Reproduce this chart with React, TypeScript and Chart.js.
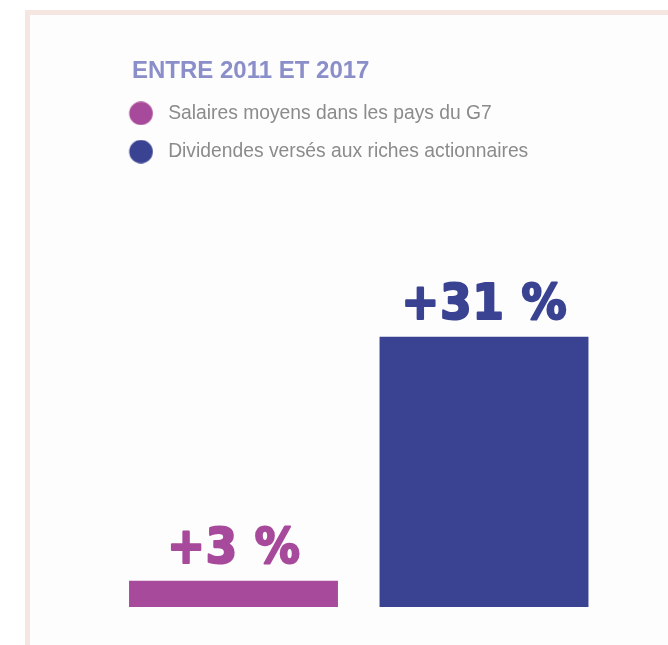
import React, { useEffect, useRef } from 'react';
import { Chart, registerables } from 'chart.js';

Chart.register(...registerables);

// ---- data ----
const categories = ['Salaires moyens', 'Dividendes'];
const seriesNames = ['Salaires moyens dans les pays du G7', 'Dividendes versés aux riches actionnaires'];
const salairesValues: (number | null)[] = [3, null];
const dividendesValues: (number | null)[] = [null, 31];
const titleText = 'ENTRE 2011 ET 2017';
const yMin = 0;
const yMax = 50;

// ---- styles ----
const MAGENTA = '#a74a9b';
const BLUE = '#3a4392';
const TITLE_COLOR = '#8a8ec9';
const LEGEND_COLOR = '#8b8b8b';
const FONT = "'Liberation Sans', Arial, sans-serif";
const LABEL_FONT = "'DejaVu Sans Condensed', 'DejaVu Sans', sans-serif";

function makeDot(color: string): HTMLCanvasElement {
  const c = document.createElement('canvas');
  c.width = 50;
  c.height = 24;
  const g = c.getContext('2d')!;
  g.fillStyle = color;
  g.beginPath();
  g.arc(13.25, 12, 11.8, 0, Math.PI * 2);
  g.fill();
  return c;
}

const headerTitlePlugin = {
  id: 'headerTitle',
  afterDraw(chart: any) {
    const lg = chart.legend;
    if (!lg) return;
    const ctx = chart.ctx;
    ctx.save();
    ctx.font = `bold 24px ${FONT}`;
    ctx.fillStyle = TITLE_COLOR;
    ctx.textAlign = 'left';
    ctx.textBaseline = 'middle';
    ctx.fillText(titleText, lg.left + 4, lg.top - 13.2);
    ctx.restore();
  },
};

const valueLabelPlugin = {
  id: 'valueLabels',
  afterDatasetsDraw(chart: any) {
    const ctx = chart.ctx;
    ctx.save();
    ctx.font = `bold 50px ${LABEL_FONT}`;
    ctx.textAlign = 'center';
    ctx.textBaseline = 'alphabetic';
    try {
      (ctx as any).letterSpacing = '1px';
    } catch (e) {
      /* ignore */
    }
    ctx.lineJoin = 'round';
    ctx.lineWidth = 2.2;
    chart.data.datasets.forEach((ds: any, i: number) => {
      const meta = chart.getDatasetMeta(i);
      meta.data.forEach((el: any, j: number) => {
        const v = ds.data[j];
        if (v === null || v === undefined) return;
        const text = `+${v} %`;
        ctx.fillStyle = ds.backgroundColor;
        ctx.strokeStyle = ds.backgroundColor;
        ctx.fillText(text, el.x + 0.5, el.y - 18);
        ctx.strokeText(text, el.x + 0.5, el.y - 18);
      });
    });
    ctx.restore();
  },
};

export default function App() {
  const ref = useRef<HTMLCanvasElement | null>(null);

  useEffect(() => {
    if (!ref.current) return;
    const dots = [makeDot(MAGENTA), makeDot(BLUE)];
    const chart = new Chart(ref.current, {
      type: 'bar',
      data: {
        labels: categories,
        datasets: [
          {
            label: seriesNames[0],
            data: salairesValues,
            backgroundColor: MAGENTA,
            clip: false as any,
          },
          {
            label: seriesNames[1],
            data: dividendesValues,
            backgroundColor: BLUE,
            clip: false as any,
          },
        ],
      },
      options: {
        responsive: false,
        animation: false,
        events: [],
        devicePixelRatio: 1,
        layout: { padding: { top: 84.7, left: 128, right: 0, bottom: 38 } },
        datasets: {
          bar: { skipNull: true, categoryPercentage: 1, barPercentage: 0.834 },
        },
        scales: {
          x: {
            type: 'category',
            offset: false,
            display: false,
          },
          y: {
            min: yMin,
            max: yMax,
            display: true,
            position: 'left',
            ticks: { display: false },
            grid: { display: false },
            border: { display: false },
            afterFit: (s: any) => {
              s.width = 105.5;
            },
          },
          yRight: {
            min: yMin,
            max: yMax,
            display: true,
            position: 'right',
            ticks: { display: false },
            grid: { display: false },
            border: { display: false },
            afterFit: (s: any) => {
              s.width = 184;
            },
          },
        },
        plugins: {
          tooltip: { enabled: false },
          title: { display: false },
          legend: {
            display: true,
            position: 'top',
            align: 'start',
            labels: {
              usePointStyle: true,
              pointStyleWidth: 11.5,
              boxHeight: 18,
              padding: 19,
              color: LEGEND_COLOR,
              font: { family: FONT, size: 19.3 },
              generateLabels: (c: any) => {
                const items = Chart.defaults.plugins.legend.labels.generateLabels(c);
                return items.map((it: any, i: number) => ({ ...it, pointStyle: dots[i] }));
              },
            },
          },
        },
      },
      plugins: [valueLabelPlugin, headerTitlePlugin],
    });
    return () => chart.destroy();
  }, []);

  return (
    <div style={{ position: 'fixed', left: 0, top: 0, width: 668, height: 645, background: '#ffffff', overflow: 'hidden' }}>
      <div
        style={{
          position: 'absolute',
          left: 25,
          top: 10,
          right: 0,
          bottom: 0,
          borderTop: '5px solid #f5e6e1',
          borderLeft: '5px solid #f5e6e1',
          background: '#fdfdfd',
        }}
      />
      <canvas ref={ref} width={668} height={645} style={{ position: 'absolute', left: 0, top: 0, width: 668, height: 645 }} />
    </div>
  );
}
